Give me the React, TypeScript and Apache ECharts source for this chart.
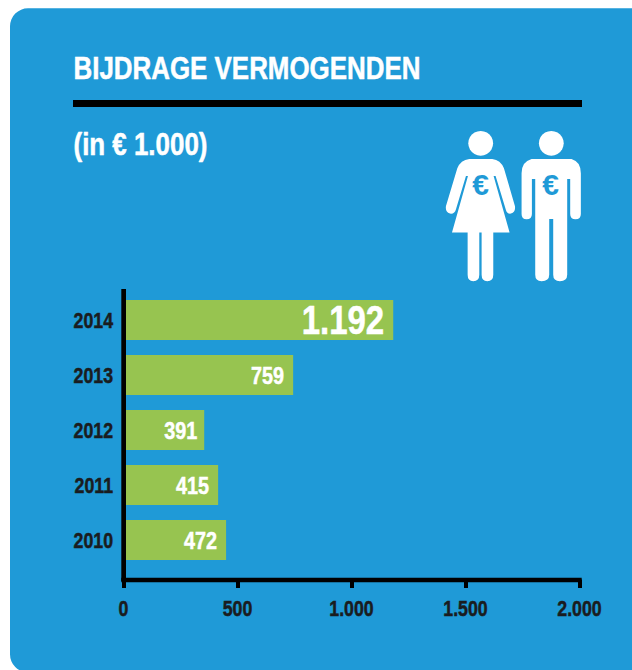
import React, { useEffect, useRef } from "react";
import * as echarts from "echarts";

const title = "BIJDRAGE VERMOGENDEN";
const subtitle = "(in € 1.000)";
const years = ["2010", "2011", "2012", "2013", "2014"];
// Bar lengths as drawn in the reference, measured against its axis.
const barLengths = [450, 415, 354, 744, 1183];
// Values as printed on the bars in the reference.
const printedValues = ["472", "415", "391", "759", "1.192"];
const tickValues = [0, 500, 1000, 1500, 2000];
const tickLabels = ["0", "500", "1.000", "1.500", "2.000"];

const PANEL = "#1f9ad7";
const BAR = "#97c450";
const INK = "#1a1c20";
const FONT = '"Liberation Sans", sans-serif';
const NARROW = 0.825; // the reference's type is a condensed face

const womanPath =
  "M118,117 L187,117 Q212,120 222,145 L255,258 Q258,276 243,281 Q232,283 228,270 L197,168 L191,168 L239,338 L190,338 L190,465 Q190,484 172,484 Q155,484 155,465 L155,338 L148,338 L148,465 Q148,484 130,484 Q113,484 113,465 L113,338 L66,338 L114,168 L108,168 L78,268 Q74,283 60,281 Q45,276 48,258 L82,145 Q92,120 118,117 Z";
const manPath =
  "M305,117 L425,117 Q453,125 453,160 L453,282 Q453,298 437,298 Q421,298 421,282 L421,177 L412,177 L412,465 Q412,484 390,484 Q370,484 370,465 L370,297 L358,297 L358,465 Q358,484 335,484 Q316,484 316,465 L316,177 L306,177 L306,282 Q306,298 290,298 Q275,298 275,282 L275,160 Q275,125 305,117 Z";

echarts.graphic.registerShape("woman", echarts.graphic.extendPath(womanPath, {}));
echarts.graphic.registerShape("man", echarts.graphic.extendPath(manPath, {}));

const narrowText = (x: number, y: number, text: string, fontSize: number, fill: string, align: string) => ({
  type: "text",
  x,
  y,
  scaleX: NARROW,
  z2: 20,
  style: { text, fontFamily: FONT, fontWeight: "bold", fontSize, fill, align, verticalAlign: "middle", stroke: fill, lineWidth: 0.5 },
});

export default function App() {
  const ref = useRef<HTMLDivElement>(null);

  useEffect(() => {
    const chart = echarts.init(ref.current!, undefined, { renderer: "svg" });
    chart.setOption({
      animation: false,
      backgroundColor: "#ffffff",
      grid: { left: 123.5, top: 292.5, width: 456, height: 275 },
      xAxis: {
        type: "value",
        min: 0,
        max: 2000,
        interval: 500,
        offset: 12,
        splitLine: { show: false },
        axisLine: { show: true, onZero: false, lineStyle: { color: "#000", width: 4.4, cap: "square" } },
        axisTick: { show: true, length: 8.5, lineStyle: { color: "#000", width: 4 } },
        axisLabel: { show: false },
      },
      yAxis: {
        type: "category",
        data: years,
        axisLine: { show: false },
        axisTick: { show: false },
        axisLabel: { show: false },
      },
      series: [
        {
          type: "bar",
          barWidth: 40,
          z: 2,
          itemStyle: { color: BAR },
          data: barLengths,
        },
        {
          // printed values, right-aligned inside the bar ends
          type: "custom",
          z: 4,
          data: barLengths.map((v, i) => [v, i]),
          renderItem: (_: any, api: any) => {
            const i = api.value(1);
            const p = api.coord([api.value(0), i]);
            return narrowText(p[0] - (i === 2 ? 7 : 9), p[1] + (i === 4 ? 0 : 0.5), printedValues[i], i === 4 ? 40 : 24, "#ffffff", "right");
          },
        },
        {
          // year labels left of the axis
          type: "custom",
          z: 4,
          data: years.map((_, i) => [0, i]),
          renderItem: (_: any, api: any) => {
            const i = api.value(1);
            const p = api.coord([0, i]);
            return narrowText(p[0] - 10.5, p[1] + 0.7, years[i], 21.5, INK, "right");
          },
        },
        {
          // value-axis tick labels below the axis
          type: "custom",
          z: 4,
          data: tickValues.map((v, i) => [v, i]),
          renderItem: (params: any, api: any) => {
            const i = params.dataIndex;
            const p = api.coord([tickValues[i], 0]);
            const s = api.coord([0, 0]);
            return narrowText(p[0], s[1] + 68.5, tickLabels[i], 21.5, INK, "center");
          },
        },
      ],
      graphic: [
        { type: "rect", z: -10, silent: true, shape: { x: 10, y: 8.3, width: 660, height: 664, r: 18 }, style: { fill: PANEL } },
        { type: "text", z: 5, x: 73.5, y: 53, scaleX: 0.836, style: { text: title, fontFamily: FONT, fontWeight: "bold", fontSize: 31, fill: "#fff", stroke: "#fff", lineWidth: 0.5 } },
        { type: "rect", z: 5, shape: { x: 73, y: 100, width: 509, height: 7 }, style: { fill: "#000" } },
        { type: "text", z: 5, x: 73.5, y: 129, scaleX: 0.836, style: { text: subtitle, fontFamily: FONT, fontWeight: "bold", fontSize: 31, fill: "#fff", stroke: "#fff", lineWidth: 0.5 } },
        { type: "rect", z: 6, shape: { x: 121.3, y: 289, width: 4.7, height: 292 }, style: { fill: "#000" } },
        { type: "circle", z: 5, shape: { cx: 480.7, cy: 143.3, r: 12.4 }, style: { fill: "#fff" } },
        { type: "circle", z: 5, shape: { cx: 551.3, cy: 143.3, r: 12.4 }, style: { fill: "#fff" } },
        { type: "woman", z: 5, x: 430, y: 120, scaleX: 1 / 3, scaleY: 1 / 3, style: { fill: "#fff" } },
        { type: "man", z: 5, x: 430, y: 120, scaleX: 1 / 3, scaleY: 1 / 3, style: { fill: "#fff" } },
        { type: "text", z: 6, x: 480.7, y: 184.5, style: { text: "€", fontFamily: FONT, fontWeight: "bold", fontSize: 30, fill: PANEL, align: "center", verticalAlign: "middle" } },
        { type: "text", z: 6, x: 550.5, y: 184.5, style: { text: "€", fontFamily: FONT, fontWeight: "bold", fontSize: 30, fill: PANEL, align: "center", verticalAlign: "middle" } },
      ],
    });
    return () => chart.dispose();
  }, []);

  return <div ref={ref} style={{ position: "absolute", left: 0, top: 0, width: 632, height: 670 }} />;
}
